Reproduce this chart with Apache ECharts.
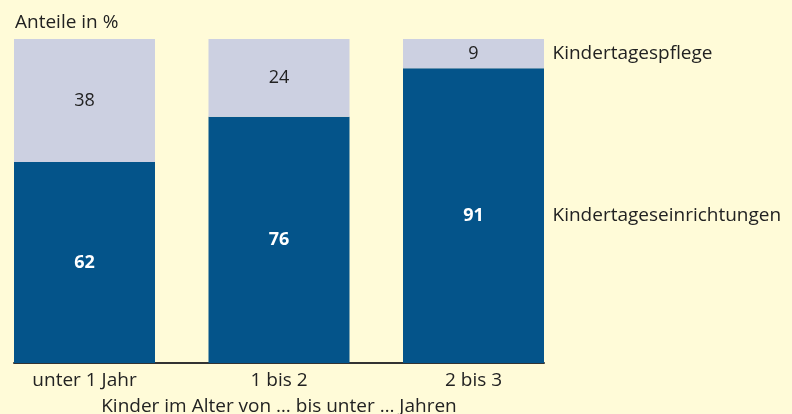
<!DOCTYPE html>
<html>
<head>
<meta charset="utf-8">
<script src="https://cdn.jsdelivr.net/npm/echarts@6/dist/echarts.min.js"></script>
<style>
  html, body { margin: 0; padding: 0; background: #fffbd8; }
  #chart { width: 792px; height: 414px; }
</style>
</head>
<body>
<div id="chart"></div>
<script>
// Anteile in % nach Alter
const categories = ["unter 1 Jahr", "1 bis 2", "2 bis 3"];
const einrichtungen = [62, 76, 91];
const pflege = [38, 24, 9];
const nameEinrichtungen = "Kindertageseinrichtungen";
const namePflege = "Kindertagespflege";

const xMin = -0.3625;
const xMax = 2.3625;
const last = categories.length - 1;
const font = "Open Sans";
const textColor = "#222";

const chart = echarts.init(document.getElementById("chart"));

// Beschriftung rechts neben dem letzten Balken
const sideLabels = [
  { value: [xMax, einrichtungen[last] / 2], name: nameEinrichtungen },
  { value: [xMax, einrichtungen[last] + pflege[last] / 2], name: namePflege },
];

const option = {
  backgroundColor: "#fffbd8",
  animation: false,
  title: {
    text: "Anteile in %",
    left: 10,
    top: 8,
    textStyle: { fontFamily: font, fontSize: 19, fontWeight: "normal", color: textColor },
  },
  grid: [
    // Balken (Kategorien)
    { left: -12.75, right: 221.25, top: 39, bottom: 51, outerBoundsMode: "none" },
    // Achsenlinie und seitliche Beschriftung
    { left: 14, right: 248, top: 39, bottom: 51, outerBoundsMode: "none" },
  ],
  xAxis: [
    {
      type: "category",
      gridIndex: 0,
      data: categories,
      axisLine: { show: false },
      axisTick: { show: false },
      axisLabel: { margin: 8, fontFamily: font, fontSize: 19, color: textColor },
    },
    {
      type: "value",
      gridIndex: 1,
      min: xMin,
      max: xMax,
      splitLine: { show: false },
      axisTick: { show: false },
      axisLabel: { show: false },
      axisLine: { show: true, lineStyle: { color: "#333", width: 2 } },
      name: "Kinder im Alter von … bis unter … Jahren",
      nameLocation: "middle",
      nameGap: 34,
      nameTextStyle: { fontFamily: font, fontSize: 19, color: textColor },
    },
  ],
  yAxis: [
    { type: "value", gridIndex: 0, min: 0, max: 100, show: false },
    { type: "value", gridIndex: 1, min: 0, max: 100, show: false },
  ],
  series: [
    {
      name: nameEinrichtungen,
      type: "bar",
      stack: "total",
      barWidth: 141,
      itemStyle: { color: "#04548a" },
      label: {
        show: true,
        position: "inside",
        fontFamily: font,
        fontSize: 18,
        fontWeight: "bold",
        color: "#fff",
      },
      data: einrichtungen,
    },
    {
      name: namePflege,
      type: "bar",
      stack: "total",
      barWidth: 141,
      itemStyle: { color: "#ccd0e1" },
      label: {
        show: true,
        position: "inside",
        fontFamily: font,
        fontSize: 18,
        color: textColor,
      },
      data: pflege,
    },
    {
      type: "scatter",
      xAxisIndex: 1,
      yAxisIndex: 1,
      symbolSize: 1,
      clip: false,
      itemStyle: { color: "rgba(0,0,0,0)", opacity: 1 },
      label: {
        show: true,
        position: "right",
        distance: 8,
        opacity: 1,
        formatter: (p) => p.name,
        fontFamily: font,
        fontSize: 19,
        color: textColor,
      },
      data: sideLabels,
    },
  ],
};

chart.setOption(option);
</script>
</body>
</html>
